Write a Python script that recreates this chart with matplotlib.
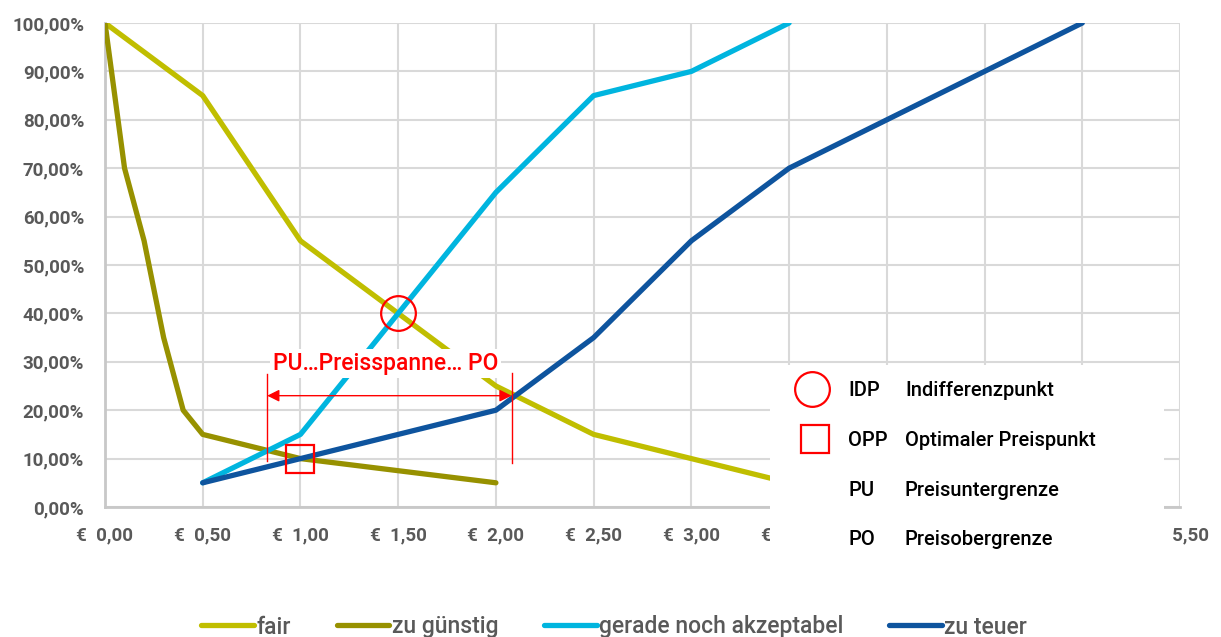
import matplotlib
matplotlib.use("Agg")
import matplotlib.pyplot as plt

plt.rcParams['font.family'] = ['Roboto', 'DejaVu Sans']

# price points (EUR) and share of answers (%)
price = [0.0, 0.5, 1.0, 1.5, 2.0, 2.5, 3.0, 3.5]
fair = [100, 85, 55, 40, 25, 15, 10, 5]

price_cheap = [0.0, 0.1, 0.2, 0.3, 0.4, 0.5, 1.0, 1.5, 2.0]
too_cheap = [100, 70, 55, 35, 20, 15, 10, 7.5, 5]

price_ok = [0.5, 1.0, 1.5, 2.0, 2.5, 3.0, 3.5]
just_ok = [5, 15, 40, 65, 85, 90, 100]

price_exp = [0.5, 1.0, 1.5, 2.0, 2.5, 3.0, 3.5, 4.0, 4.5, 5.0]
too_expensive = [5, 10, 15, 20, 35, 55, 70, 80, 90, 100]

series_names = ['fair', 'zu günstig', 'gerade noch akzeptabel', 'zu teuer']
colors = ['#C0BE00', '#979100', '#00B5DF', '#0E549E']

x_ticks = [0.0, 0.5, 1.0, 1.5, 2.0, 2.5, 3.0, 3.5, 4.0, 4.5, 5.0, 5.5]
y_ticks = [0, 10, 20, 30, 40, 50, 60, 70, 80, 90, 100]

idp = (1.5, 40)
opp = (1.0, 10)
pu = 0.83
po = 2.08

key_short = ['IDP', 'OPP', 'PU', 'PO']
key_long = ['Indifferenzpunkt', 'Optimaler Preispunkt', 'Preisuntergrenze', 'Preisobergrenze']

W, H = 1221, 637
fig = plt.figure(figsize=(W / 100, H / 100), dpi=100)
ax = fig.add_axes([105 / W, 1 - 507 / H, 1075 / W, 484 / H])

grey = '#595959'
for xs, ys, c, n in zip([price, price_cheap, price_ok, price_exp],
                        [fair, too_cheap, just_ok, too_expensive],
                        colors, series_names):
    ax.plot(xs, ys, color=c, lw=3.8, label=n, solid_capstyle='round',
            solid_joinstyle='round', zorder=3)

ax.set_xlim(0, 5.5)
ax.set_ylim(0, 100)
ax.set_xticks(x_ticks)
ax.set_yticks(y_ticks)
ax.set_xticklabels(['€  ' + f'{v:.2f}'.replace('.', ',') for v in x_ticks])
ax.set_yticklabels([f'{v:.2f}'.replace('.', ',') + '%' for v in y_ticks])
ax.tick_params(length=0, labelsize=13.5, labelcolor=grey)
ax.tick_params(axis='y', pad=15)
ax.tick_params(axis='x', pad=14)
for lab in ax.get_xticklabels() + ax.get_yticklabels():
    lab.set_fontweight('semibold')
ax.grid(True, color='#D9D9D9', lw=1.5, zorder=0)
ax.set_axisbelow(True)
for s in ['top', 'right']:
    ax.spines[s].set_visible(False)
for s in ['left', 'bottom']:
    ax.spines[s].set_color('#C8C8C8')
    ax.spines[s].set_linewidth(2)

# annotations
ax.plot(*idp, marker='o', ms=25, mfc='none', mec='red', mew=1.6, zorder=5)
ax.plot(*opp, marker='s', ms=20, mfc='none', mec='red', mew=1.6, zorder=5)
ax.plot([pu, pu], [9.5, 27.5], color='red', lw=1.0, zorder=5)
ax.plot([po, po], [9.0, 27.7], color='red', lw=1.0, zorder=5)
ax.annotate('', xy=(pu, 23), xytext=(po, 23),
            arrowprops=dict(arrowstyle='<|-|>', color='red', lw=1.0,
                            mutation_scale=18, shrinkA=0, shrinkB=0), zorder=5)
ax.text((pu + po) / 2 - 0.02, 29.7, 'PU…Preisspanne… PO', color='red',
        fontsize=16.5, ha='center', va='center', zorder=6, fontweight='medium',
        bbox=dict(facecolor='white', edgecolor='none', pad=2))

# key box, laid out in figure pixels
kx = fig.add_axes([770 / W, 1 - 562 / H, 394 / W, 197 / H], zorder=10)
kx.set_xlim(770, 1164)
kx.set_ylim(562, 365)
kx.set_facecolor('white')
kx.set_xticks([])
kx.set_yticks([])
for s in kx.spines.values():
    s.set_visible(False)
rows = [391, 441, 491, 540]
kx.plot(812, rows[0] - 2, marker='o', ms=25, mfc='none', mec='red', mew=1.6)
kx.plot(815, rows[1] - 2, marker='s', ms=20, mfc='none', mec='red', mew=1.6)
for y, a, b in zip(rows, key_short, key_long):
    kx.text(848, y, a, fontsize=14.5, va='center', ha='left', color='black',
            fontweight='medium')
    kx.text(905, y, b, fontsize=14.5, va='center', ha='left', color='black',
            fontweight='medium')

leg = fig.legend(loc='center', bbox_to_anchor=(0.503, 10 / H), ncol=4,
                 frameon=False, fontsize=16.5, handlelength=2.3,
                 handletextpad=0.1, columnspacing=2.0)
for t in leg.get_texts():
    t.set_color(grey)
    t.set_fontweight('medium')

fig.savefig('out.png', dpi=100)
